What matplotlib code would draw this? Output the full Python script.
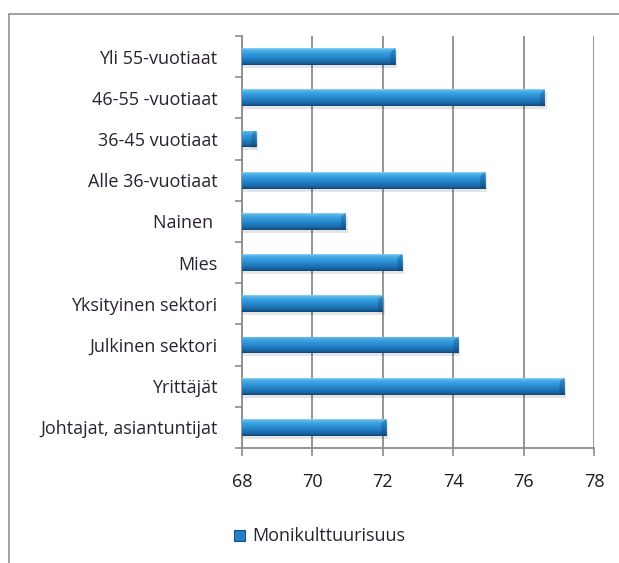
import numpy as np
import matplotlib
matplotlib.use("Agg")
import matplotlib.pyplot as plt
from matplotlib.colors import LinearSegmentedColormap
from matplotlib.patches import Rectangle, Polygon

# ------ DATA ------
categories = [
    "Johtajat, asiantuntijat",
    "Yrittäjät",
    "Julkinen sektori",
    "Yksityinen sektori",
    "Mies",
    "Nainen ",
    "Alle 36-vuotiaat",
    "36-45 vuotiaat",
    "46-55 -vuotiaat",
    "Yli 55-vuotiaat",
]
values = [72.1, 77.15, 74.15, 72.0, 72.55, 70.95, 74.9, 68.4, 76.6, 72.35]
series_name = "Monikulttuurisuus"
xticks = [68, 70, 72, 74, 76, 78]

plt.rcParams['font.family'] = ['Open Sans', 'DejaVu Sans']

# gradient for the "cylinder" bars
bar_cmap = LinearSegmentedColormap.from_list(
    "bar", [(0, "#8fd3f7"), (0.1, "#4fb1e8"), (0.35, "#3298da"),
            (0.6, "#2380c4"), (0.85, "#1a66a5"), (1, "#114677")])
grad = np.linspace(0, 1, 64).reshape(-1, 1)

fig = plt.figure(figsize=(6.19, 5.63), dpi=100)
ax = fig.add_axes([0.3905, 0.2043, 0.5691, 0.7317])

y = np.arange(len(categories))
bars = ax.barh(y, [v - xticks[0] for v in values], left=xticks[0], height=0.41,
               color="#2380c4", edgecolor="none", zorder=3)

for b in bars:
    x0, y0 = b.get_x(), b.get_y()
    w, h = b.get_width(), b.get_height()
    # cień
    ax.add_patch(Rectangle((x0, y0 - 0.07), w + 0.06, h, color="#000000",
                           alpha=0.10, lw=0, zorder=2))
    im = ax.imshow(grad, cmap=bar_cmap, extent=[x0, x0 + w, y0, y0 + h],
                   aspect="auto", zorder=4)
    im.set_clip_path(b)
    # ścięty koniec słupka
    e = min(0.13, w / 3)
    ax.add_patch(Polygon([(x0 + w - e, y0 + h * 0.75), (x0 + w, y0 + h),
                          (x0 + w, y0), (x0 + w - e, y0)],
                         closed=True, color="#0f4272", alpha=0.35, lw=0, zorder=5))

ax.set_xlim(68, 78)
ax.set_ylim(-0.5, len(categories) - 0.5)
ax.set_xticks(xticks)
ax.set_yticks(y)
ax.set_yticklabels(categories)
ax.set_yticks(np.arange(-0.5, len(categories), 1), minor=True)

ax.tick_params(axis="y", which="major", length=0, pad=17.5, labelsize=13,
               labelcolor="#2a2230")
ax.tick_params(axis="y", which="minor", length=5, width=1.2, color="#8c8c8c")
ax.tick_params(axis="x", length=6, width=1.2, color="#8c8c8c", pad=12,
               labelsize=13, labelcolor="#1a1a1a")

ax.grid(axis="x", color="#8c8c8c", linewidth=1.3, zorder=0)
ax.set_axisbelow(True)
for s in ["top", "right"]:
    ax.spines[s].set_visible(False)
for s in ["left", "bottom"]:
    ax.spines[s].set_color("#8c8c8c")
    ax.spines[s].set_linewidth(1.3)

# legenda
fig.patches.append(Rectangle((234 / 619, 1 - 541 / 563), 11 / 619, 11 / 563,
                             transform=fig.transFigure, facecolor="#2380c4",
                             edgecolor="#15548a", lw=0.8))
fig.text(252 / 619, 1 - 536 / 563, series_name, fontsize=13, color="#2a2230",
         va="center", ha="left")

# ramka wykresu
fig.patches.append(Rectangle((9 / 619, -0.1), 1.2, 1 - 14 / 563 + 0.1,
                             transform=fig.transFigure, fill=False,
                             edgecolor="#9a9a9a", lw=1.3))

fig.savefig("out.png", dpi=100)
